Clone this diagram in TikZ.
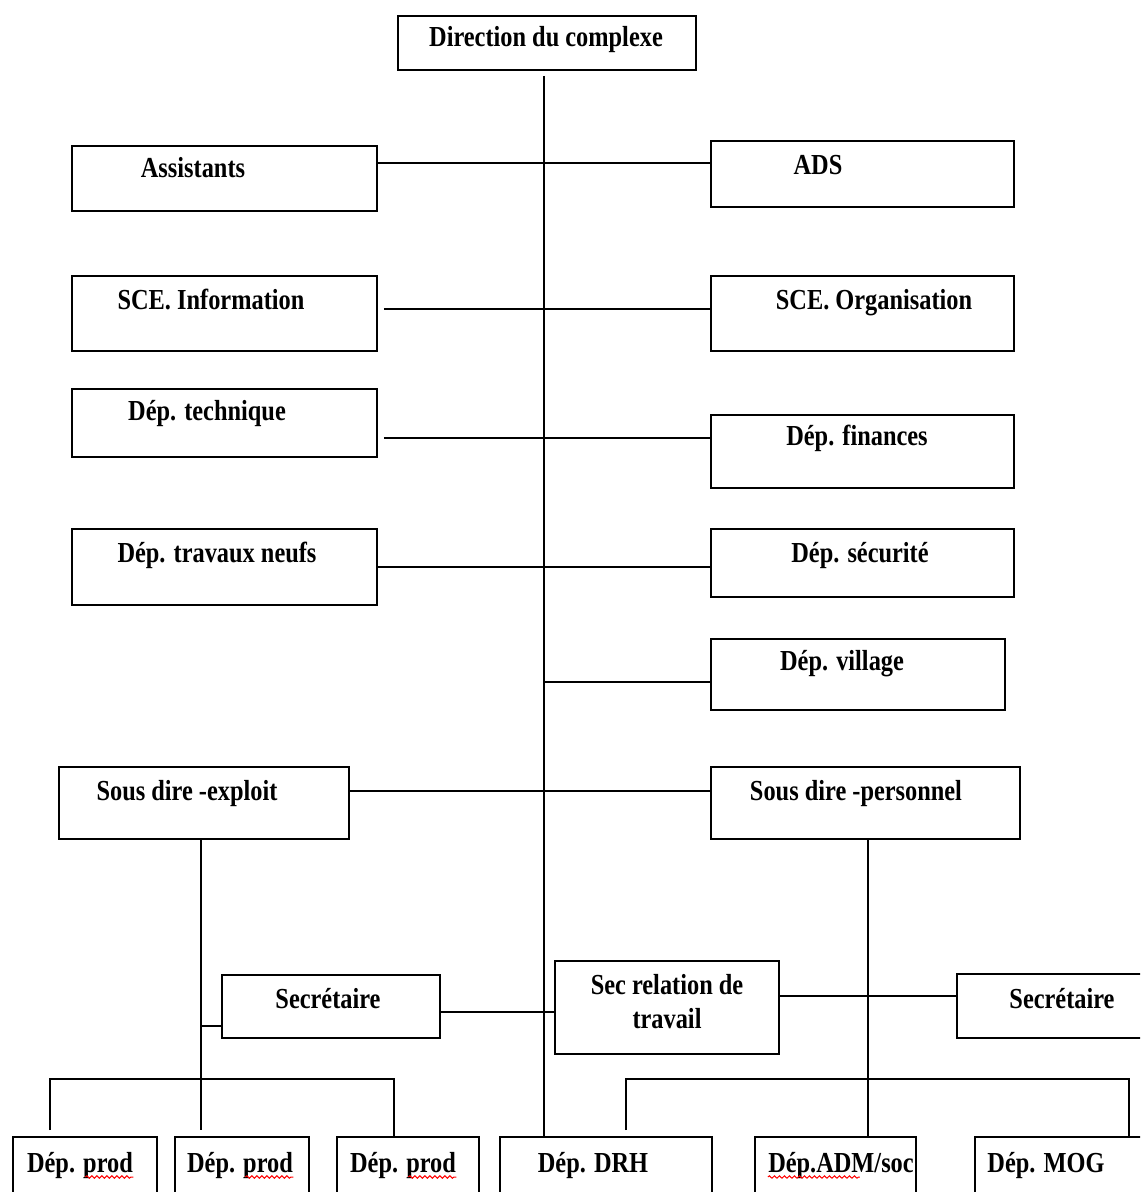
\documentclass[tikz,border=0pt]{standalone}
\usepackage{fontspec}
\setmainfont{Liberation Serif}[FakeStretch=0.84]
\usepackage{tikz}
\usetikzlibrary{decorations.pathmorphing}

\tikzset{
  orgbox/.style 2 args={draw, line width=0.9pt, minimum width=#1*0.5pt, minimum height=#2*0.5pt, inner sep=0pt},
  orgtxt/.style={anchor=base, inner sep=0pt, font=\bfseries\fontsize{14.5}{17}\selectfont},
  link/.style={line width=0.8pt},
  squiggle/.style={red, line width=0.5pt, decorate, decoration={snake, segment length=2.5pt, amplitude=0.6pt}}
}

\begin{document}
\begin{tikzpicture}[x=0.5pt, y=-0.5pt, line join=miter]

\useasboundingbox (0,0) rectangle (1140,1192);
\clip (0,0) rectangle (1140,1192);

% Direction
\node[orgbox={298}{54}] (dir) at (547,43) {};
\node[orgtxt] (dirT) at (546,47) {Direction du complexe};

% Colonne gauche
\node[orgbox={305}{65}] (ass) at (224.5,178.5) {};
\node[orgtxt] (assT) at (193,178) {Assistants};
\node[orgbox={305}{75}] (info) at (224.5,313.5) {};
\node[orgtxt] (infoT) at (211,310) {SCE. Information};
\node[orgbox={305}{68}] (tech) at (224.5,423) {};
\node[orgtxt] (techT) at (207,420) {Dép. technique};
\node[orgbox={305}{76}] (trav) at (224.5,567) {};
\node[orgtxt] (travT) at (217,562) {Dép. travaux neufs};

% Colonne droite
\node[orgbox={303}{66}] (ads) at (862.5,174) {};
\node[orgtxt] (adsT) at (818,175) {ADS};
\node[orgbox={303}{75}] (orga) at (862.5,313.5) {};
\node[orgtxt] (orgaT) at (874,310) {SCE. Organisation};
\node[orgbox={303}{73}] (fin) at (862.5,451.5) {};
\node[orgtxt] (finT) at (857,445) {Dép. finances};
\node[orgbox={303}{68}] (secu) at (862.5,563) {};
\node[orgtxt] (secuT) at (860,562) {Dép. sécurité};
\node[orgbox={294}{71}] (vill) at (858,674.5) {};
\node[orgtxt] (villT) at (842,670) {Dép. village};

% Sous directions
\node[orgbox={290}{72}] (sdex) at (204,803) {};
\node[orgtxt] (sdexT) at (187,800) {Sous dire -exploit};
\node[orgbox={309}{72}] (sdpe) at (865.5,803) {};
\node[orgtxt] (sdpeT) at (856,800) {Sous dire -personnel};

% Secretariats
\node[orgbox={218}{63}] (secL) at (331,1006.5) {};
\node[orgtxt] (secLT) at (328,1008) {Secrétaire};
\node[orgbox={224}{93}] (rel) at (667,1007.5) {};
\node[orgtxt, align=center] (relT) at (667,1028) {Sec relation de\\travail};
\node[orgbox={210}{64}] (secR) at (1062,1006) {};
\node[orgtxt] (secRT) at (1062,1008) {Secrétaire};

% Departements du bas
\node[orgbox={144}{78}] (prod1) at (85,1176) {};
\node[orgtxt] (prod1T) at (80,1172) {Dép. prod};
\node[orgbox={134}{78}] (prod2) at (242,1176) {};
\node[orgtxt] (prod2T) at (240,1172) {Dép. prod};
\node[orgbox={142}{78}] (prod3) at (408,1176) {};
\node[orgtxt] (prod3T) at (403,1172) {Dép. prod};
\node[orgbox={212}{78}] (drh) at (606,1176) {};
\node[orgtxt] (drhT) at (593,1172) {Dép. DRH};
\node[orgbox={161}{78}] (adm) at (835.5,1176) {};
\node[orgtxt] (admT) at (841,1172) {Dép.ADM/soc};
\node[orgbox={185}{78}] (mog) at (1067.5,1176) {};
\node[orgtxt] (mogT) at (1046,1172) {Dép. MOG};

% Tronc central
\coordinate (spine) at (544,76);
\draw[link] (spine) -- (spine |- drh.north);

% Liaisons horizontales
\draw[link] (ass.east |- 0,163) -- (ads.west |- 0,163);
\draw[link] ([xshift=3pt]info.east |- 0,309) -- (orga.west |- 0,309);
\draw[link] ([xshift=3pt]tech.east |- 0,438) -- (fin.west |- 0,438);
\draw[link] (trav.east |- 0,567) -- (secu.west |- 0,567);
\draw[link] (spine |- 0,682) -- (vill.west |- 0,682);
\draw[link] (sdex.east |- 0,791) -- (sdpe.west |- 0,791);

% Branche exploitation
\coordinate (exl) at (sdex.south -| 201,0);
\draw[link] (exl) -- ([yshift=3pt]prod2.north -| exl);
\draw[link] (exl |- 0,1026) -- (secL.west |- 0,1026);
\draw[link] ([yshift=3pt]prod1.north -| 50,0) |- (394,1079) -- (prod3.north -| 394,0);

% Branche personnel
\coordinate (per) at (sdpe.south -| 868,0);
\draw[link] (per) -- (adm.north -| per);
\draw[link] ([yshift=3pt]drh.north -| 626,0) |- (1129,1079) -- (mog.north -| 1129,0);

% Secretariats
\draw[link] (secL.east |- 0,1012) -- (rel.west |- 0,1012);
\draw[link] (rel.east |- 0,996) -- (secR.west |- 0,996);

% Soulignements (orthographe)
\foreach \t in {prod1T, prod2T, prod3T}
  \draw[squiggle] ([xshift=-24pt, yshift=-2.5pt]\t.base east) -- ([yshift=-2.5pt]\t.base east);
\draw[squiggle] ([yshift=-2.5pt]admT.base west) -- ([xshift=46pt, yshift=-2.5pt]admT.base west);

\end{tikzpicture}
\end{document}
